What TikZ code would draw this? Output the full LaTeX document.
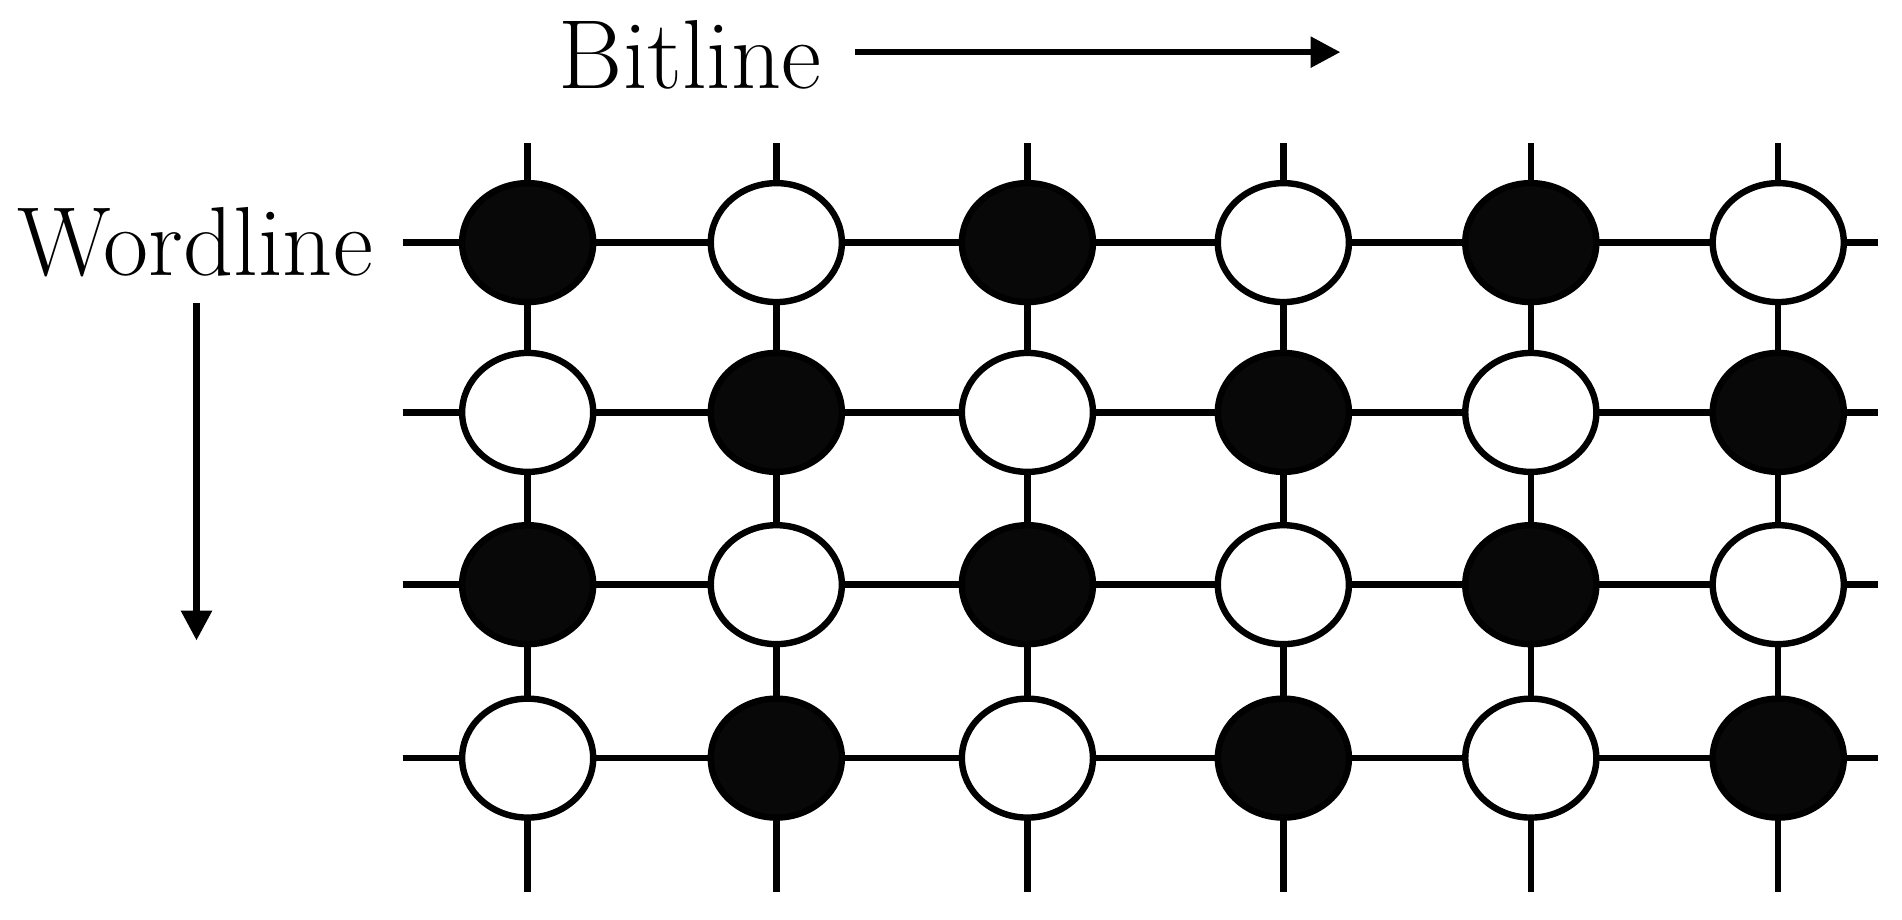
\documentclass[tikz,border=0pt]{standalone}
\usetikzlibrary{arrows.meta,shapes.geometric}
\begin{document}
\begin{tikzpicture}[x=0.01cm,y=-0.01cm,line width=1.5pt,
  cell/.style={ellipse,draw,minimum width=1.08cm,minimum height=0.98cm,inner sep=0pt},
  on/.style={cell,fill=black!97},
  off/.style={cell,fill=white},
  lbl/.style={font=\fontsize{23}{27}\selectfont,inner sep=0pt},
  arr/.style={-{Stealth[length=7pt,width=7pt,inset=0pt]}}]
\useasboundingbox (0,0) rectangle (1568,758);
\foreach \x in {435,640,847,1058,1262,1466}
  \draw (\x,118) -- (\x,735);
\foreach \y in {200,340,482,625}
  \draw (332,\y) -- (1548,\y);
\foreach \x [count=\i] in {435,640,847,1058,1262,1466}
  \foreach \y [count=\j] in {200,340,482,625}{
    \pgfmathtruncatemacro{\p}{mod(\i+\j,2)}
    \ifnum\p=0 \node[on] (c\i\j) at (\x,\y) {};
    \else \node[off] (c\i\j) at (\x,\y) {};\fi
  }
\node[lbl] (bl) at (569,45) {Bitline};
\coordinate (ba) at (705,43);
\coordinate (bb) at (1105,43);
\draw[arr] (ba) -- (bb);
\node[lbl] (wl) at (161,200) {Wordline};
\coordinate (wa) at (162,250);
\coordinate (wb) at (162,528);
\draw[arr] (wa) -- (wb);
\end{tikzpicture}
\end{document}
